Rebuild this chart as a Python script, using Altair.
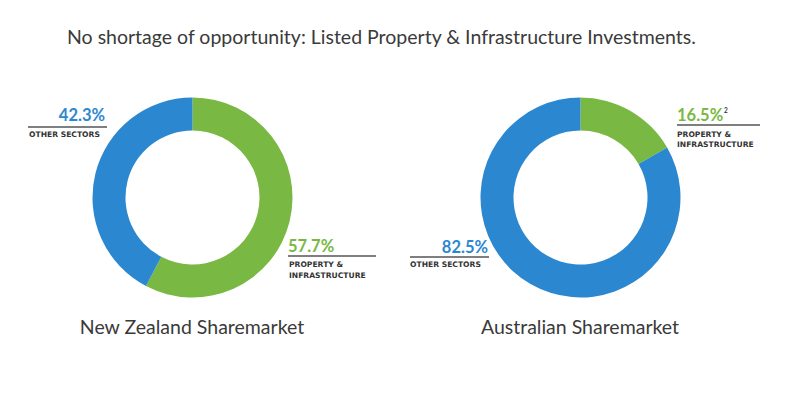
import altair as alt
import pandas as pd

# ---- data ----
categories = ["Property & Infrastructure", "Other Sectors"]
nz_values = [57.7, 42.3]
au_values = [16.5, 82.5]
title_text = "No shortage of opportunity: Listed Property & Infrastructure Investments."
market_names = ["New Zealand Sharemarket", "Australian Sharemarket"]
label_other = "OTHER SECTORS"
label_prop = ["PROPERTY &", "INFRASTRUCTURE"]
footnote = "2"

GREEN = "#79b843"
BLUE = "#2b88d0"
DARK = "#333333"
FONT = "Lato"
SMALL_FONT = "DejaVu Sans"
M = 8  # page margin


def P(v):
    return v - M


def arc(values, cx, cy):
    df = pd.DataFrame({"category": categories, "value": values, "k": [0, 1]})
    return alt.Chart(df).mark_arc(innerRadius=67, outerRadius=100, stroke=None).encode(
        theta=alt.Theta("value:Q", stack=True),
        order=alt.Order("k:Q"),
        color=alt.Color("category:N", scale=alt.Scale(domain=categories, range=[GREEN, BLUE]), legend=None),
        x=alt.value(P(cx)),
        y=alt.value(P(cy)),
    )


def txt(s, x, y, size, color, weight="normal", align="left", font=FONT):
    return alt.Chart(pd.DataFrame({"t": [s]})).mark_text(
        x=P(x), y=P(y), fontSize=size, color=color, fontWeight=weight,
        align=align, baseline="alphabetic", font=font,
    ).encode(text="t:N")


def small(s, x, y, align="left"):
    return txt(s, x, y, 7.6, DARK, "bold", align, SMALL_FONT)


def rule(x1, x2, y):
    return alt.Chart(pd.DataFrame({"a": [0]})).mark_rule(color="#555555", strokeWidth=1.3).encode(
        x=alt.value(P(x1)), x2=alt.value(P(x2)), y=alt.value(P(y))
    )


layers = [
    arc(nz_values, 192.5, 197.5),
    arc(au_values, 580.5, 197.5),
    txt(title_text, 67, 44, 19.5, "#3a3a3a"),
    # NZ labels
    txt(f"{nz_values[1]}%", 105, 121, 16.5, BLUE, "bold", "right"),
    rule(28, 107, 127),
    small(label_other, 29, 137),
    txt(f"{nz_values[0]}%", 288, 252, 16.5, GREEN, "bold"),
    rule(288, 376, 256),
    small(label_prop[0], 289, 267),
    small(label_prop[1], 289, 278),
    # AU labels
    txt(f"{au_values[1]}%", 488, 253, 16.5, BLUE, "bold", "right"),
    rule(410, 489, 257),
    small(label_other, 410, 267),
    txt(f"{au_values[0]}%", 677, 121, 16.5, GREEN, "bold"),
    txt(footnote, 724, 113, 6.5, DARK, "bold"),
    rule(677, 760, 125),
    small(label_prop[0], 677, 137),
    small(label_prop[1], 677, 147),
    # market names
    txt(market_names[0], 192, 334, 19.5, "#3a3a3a", "normal", "center"),
    txt(market_names[1], 580, 334, 19.5, "#3a3a3a", "normal", "center"),
]

chart = alt.layer(*layers).resolve_scale(theta="independent").properties(
    width=784, height=382, autosize=alt.AutoSizeParams(type="none"), padding=0,
    background="white",
).configure_view(stroke=None)

chart.save("out.html", embed_options={"renderer": "svg", "actions": False})
